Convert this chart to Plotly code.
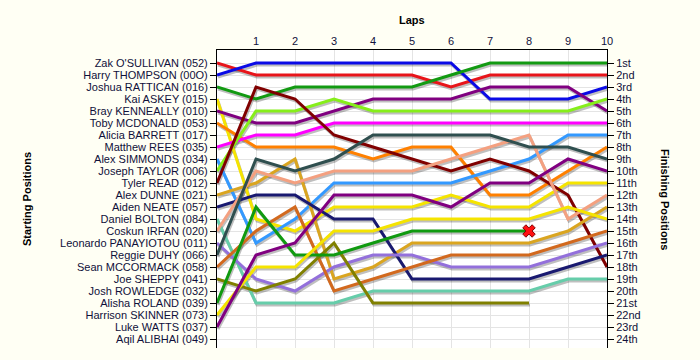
import plotly.graph_objects as go

laps = list(range(11))
lap_ticks = list(range(1, 11))

starting_names = [
    "Zak O'SULLIVAN (052)", "Harry THOMPSON (00O)", "Joshua RATTICAN (016)", "Kai ASKEY (015)",
    "Bray KENNEALLY (010)", "Toby MCDONALD (053)", "Alicia BARRETT (017)", "Matthew REES (035)",
    "Alex SIMMONDS (034)", "Joseph TAYLOR (006)", "Tyler READ (012)", "Alex DUNNE (021)",
    "Aiden NEATE (057)", "Daniel BOLTON (084)", "Coskun IRFAN (020)", "Leonardo PANAYIOTOU (011)",
    "Reggie DUHY (066)", "Sean MCCORMACK (058)", "Joe SHEPPY (041)", "Josh ROWLEDGE (032)",
    "Alisha ROLAND (039)", "Harrison SKINNER (073)", "Luke WATTS (037)", "Aqil ALIBHAI (049)",
]
finishing_labels = [
    "1st", "2nd", "3rd", "4th", "5th", "6th", "7th", "8th", "9th", "10th", "11th", "12th",
    "13th", "14th", "15th", "16th", "17th", "18th", "19th", "20th", "21st", "22nd", "23rd", "24th",
]

# positions per lap (lap 0 = start)
zak = [1, 2, 2, 2, 2, 2, 3, 2, 2, 2, 2]
harry = [2, 1, 1, 1, 1, 1, 1, 4, 4, 4, 3]
joshua = [3, 4, 3, 3, 3, 3, 2, 1, 1, 1, 1]
kai = [4, 14, 15, 13, 13, 13, 12, 13, 13, 11, 11]
bray = [5, 6, 6, 5, 4, 4, 4, 3, 3, 3, 5]
toby = [6, 8, 8, 8, 9, 8, 8, 12, 12, 10, 8]
matthew = [8, 7, 7, 6, 6, 6, 6, 6, 6, 6, 6]
alex_s = [9, 16, 14, 11, 11, 11, 11, 10, 9, 7, 7]
joseph = [10, 5, 5, 4, 5, 5, 5, 5, 5, 5, 4]
tyler = [11, 3, 4, 7, 8, 9, 10, 9, 10, 12, 18]
alex_d = [12, 11, 9, 19, 18, 16, 16, 16, 16, 15, 13]
aiden = [13, 12, 12, 14, 14, 19, 19, 19, 19, 18, 17]
daniel = [14, 21, 21, 21, 20, 20, 20, 20, 20, 19, 19]
coskun = [15, 10, 11, 10, 10, 10, 9, 8, 7, 14, 12]
leonardo = [16, 19, 20, 18, 17, 17, 18, 18, 18, 17, 16]
reggie = [17, 9, 10, 9, 7, 7, 7, 7, 8, 8, 9]
sean = [18, 15, 13, 20, 19, 18, 17, 17, 17, 16, 15]
joe = [19, 20, 19, 16, 21, 21, 21, 21, 21]
alisha = [21, 13, 17, 17, 16, 15, 15, 15, 15]
harrison = [22, 18, 18, 15, 15, 14, 14, 14, 14, 13, 14]
luke = [23, 17, 16, 12, 12, 12, 13, 11, 11, 9, 10]

retired_lap = [8]
retired_pos = [15]

series = [
    (zak, "#e8141a"), (harry, "#0a0ae6"), (joshua, "#129a12"), (kai, "#f5e400"),
    (bray, "#800080"), (toby, "#ff8000"), (matthew, "#ff00ff"), (alex_s, "#3399ff"),
    (joseph, "#86ee1a"), (tyler, "#800000"), (alex_d, "#daa520"), (aiden, "#191970"),
    (daniel, "#66cdaa"), (coskun, "#f4a080"), (leonardo, "#9370db"), (reggie, "#2f4f4f"),
    (sean, "#d2691e"), (joe, "#808000"), (alisha, "#109a10"), (harrison, "#f5e400"),
    (luke, "#800080"),
]

W, H = 700, 360
L, R, T, B = 217, 93, 50, 12
y_top, y_bot = -1.0 / 12.0, 24.75
plot_h = H - T - B
plot_w = W - L - R
dy = 2.0 * (y_bot - y_top) / plot_h
dx = 1.0 * 10.0 / plot_w

fig = go.Figure()
for vals, col in series:
    xs = laps[:len(vals)]
    fig.add_trace(go.Scatter(
        x=[x + dx for x in xs], y=[v + dy for v in vals], mode="lines",
        line=dict(color="rgba(0,0,0,0.25)", width=3), hoverinfo="skip", showlegend=False,
    ))
for vals, col in series:
    xs = laps[:len(vals)]
    fig.add_trace(go.Scatter(
        x=xs, y=vals, mode="lines", line=dict(color=col, width=3), showlegend=False,
    ))
fig.add_trace(go.Scatter(
    x=retired_lap, y=retired_pos, mode="markers",
    marker=dict(symbol="x", size=11, color="#ff1010", line=dict(color="#800000", width=1)),
    showlegend=False,
))
fig.add_trace(go.Scatter(x=[None], y=[None], yaxis="y2", showlegend=False))

font_main = "Liberation Sans, Arial, sans-serif"
tick_font = dict(family=font_main, size=11, color="#10103a")
title_font = dict(family=font_main, size=11, color="#000000")

fig.update_layout(
    width=W, height=H,
    margin=dict(l=L, r=R, t=T, b=B, autoexpand=False),
    paper_bgcolor="#fffff4",
    plot_bgcolor="#ffffff",
    xaxis=dict(
        range=[0, 10], side="top", tickvals=lap_ticks, ticktext=[str(v) for v in lap_ticks],
        showgrid=True, gridcolor="#e4e4e4", gridwidth=1, zeroline=False,
        showline=True, linecolor="#000000", linewidth=1, ticks="",
        tickfont=tick_font, automargin=False,
    ),
    yaxis=dict(
        range=[y_bot, y_top], tickvals=list(range(1, 25)), ticktext=starting_names,
        showgrid=True, gridcolor="#e4e4e4", zeroline=False,
        showline=True, linecolor="#000000", linewidth=1,
        ticks="outside", ticklen=6, tickcolor="#000000", tickfont=tick_font, automargin=False,
    ),
    yaxis2=dict(
        range=[y_bot, y_top], overlaying="y", side="right", tickvals=list(range(1, 25)),
        ticktext=finishing_labels, showgrid=False, zeroline=False,
        showline=True, linecolor="#000000", linewidth=1,
        ticks="outside", ticklen=6, tickcolor="#000000", tickfont=tick_font, automargin=False,
    ),
    annotations=[
        dict(text="<b>Laps</b>", x=0.5, y=1, xref="paper", yref="paper", yshift=38,
             showarrow=False, font=title_font),
        dict(text="<b>Starting Positions</b>", x=0, y=0.5, xref="paper", yref="paper",
             xshift=-198, showarrow=False, textangle=-90, font=title_font),
        dict(text="<b>Finishing Positions</b>", x=1, y=0.5, xref="paper", yref="paper",
             xshift=66, showarrow=False, textangle=90, font=title_font),
    ],
)

fig.write_html(
    "out.html",
    config={"displayModeBar": False},
    post_script="document.body.style.margin='0';document.body.style.background='#fffff4';",
)
